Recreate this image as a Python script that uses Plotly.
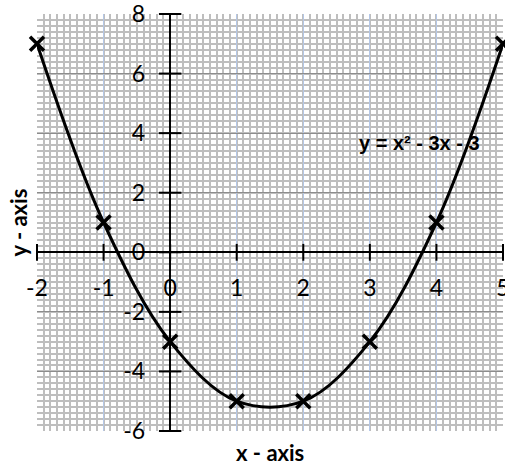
import plotly.graph_objects as go

# data
x_vals = [-2, -1, 0, 1, 2, 3, 4, 5]
y_vals = [7, 1, -3, -5, -5, -3, 1, 7]
x_ticks = [-2, -1, 0, 1, 2, 3, 4, 5]
y_ticks = [-6, -4, -2, 0, 2, 4, 6, 8]
eq_label = "y = x² - 3x - 3"
eq_pos = (3.75, 3.67)

TICK_FONT = dict(family="Lato, Open Sans, sans-serif", size=23, color="black")
TITLE_FONT = dict(family="Lato, Open Sans, sans-serif", size=22, color="black")

fig = go.Figure()

# curve with x markers
fig.add_trace(go.Scatter(
    x=x_vals, y=y_vals, mode="lines+markers",
    line=dict(color="black", width=3, shape="spline", smoothing=1),
    marker=dict(symbol="x-thin", size=14, color="black",
                line=dict(width=3.5, color="black")),
    showlegend=False, hoverinfo="skip", cliponaxis=False,
))

# crossing tick marks on the axes
fig.add_trace(go.Scatter(
    x=x_ticks, y=[0] * len(x_ticks), mode="markers", cliponaxis=False,
    marker=dict(symbol="line-ns", size=12, color="black",
                line=dict(width=2, color="black")),
    showlegend=False, hoverinfo="skip",
))
fig.add_trace(go.Scatter(
    x=[0] * len(y_ticks), y=y_ticks, mode="markers", cliponaxis=False,
    marker=dict(symbol="line-ew", size=16, color="black",
                line=dict(width=2, color="black")),
    showlegend=False, hoverinfo="skip",
))

fig.update_xaxes(
    range=[x_ticks[0], x_ticks[-1]], tickmode="array", tickvals=x_ticks,
    ticktext=[str(v) for v in x_ticks],
    showgrid=True, gridcolor="#b4c7e7", gridwidth=1,
    minor=dict(dtick=0.1, showgrid=True, gridcolor="#bebebe", gridwidth=2),
    zeroline=True, zerolinecolor="black", zerolinewidth=2,
    showline=False, ticks="", ticklabeloverflow="allow", automargin=False,
    anchor="free", position=(0 - y_ticks[0]) / (y_ticks[-1] - y_ticks[0]),
    ticklabelstandoff=20, tickfont=TICK_FONT,
)
fig.update_yaxes(
    range=[y_ticks[0], y_ticks[-1]], tickmode="array", tickvals=y_ticks,
    ticktext=[str(v) for v in y_ticks],
    showgrid=True, gridcolor="#8c8c8c", gridwidth=1,
    minor=dict(dtick=0.2, showgrid=True, gridcolor="#bebebe", gridwidth=2),
    zeroline=True, zerolinecolor="black", zerolinewidth=2,
    showline=False, ticks="", ticklabeloverflow="allow", automargin=False,
    anchor="free", position=(0 - x_ticks[0]) / (x_ticks[-1] - x_ticks[0]),
    ticklabelstandoff=25, tickfont=TICK_FONT,
)

fig.add_annotation(x=eq_pos[0], y=eq_pos[1], xref="x", yref="y",
                   text="<b>" + eq_label + "</b>", showarrow=False,
                   font=dict(family="Liberation Sans, Arial, sans-serif", size=20, color="black"))
fig.add_annotation(x=0.5, y=0, xref="paper", yref="paper", yanchor="middle",
                   yshift=-21, text="<b>x - axis</b>", showarrow=False, font=TITLE_FONT)
fig.add_annotation(x=0, y=0.5, xref="paper", yref="paper", xanchor="center",
                   xshift=-19, textangle=-90, text="<b>y - axis</b>",
                   showarrow=False, font=TITLE_FONT)

fig.update_layout(
    width=505, height=468,
    margin=dict(l=37, r=2, t=14, b=37, autoexpand=False),
    paper_bgcolor="white", plot_bgcolor="white",
)

# remove the page's default body margin so the figure fills the window
fig.write_html(
    "out.html",
    config={"displayModeBar": False},
    post_script="document.body.style.margin='0';document.body.style.overflow='hidden';",
)
